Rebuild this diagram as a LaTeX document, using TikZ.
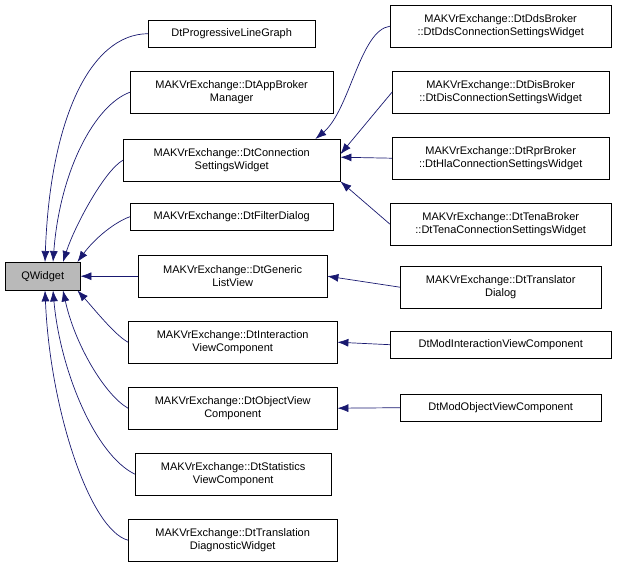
\documentclass[tikz,border=0pt]{standalone}
\usepackage{fontspec}
\setmainfont{Liberation Sans}
\usetikzlibrary{calc,arrows.meta}
\definecolor{edge}{HTML}{191970}
\begin{document}
\begin{tikzpicture}[x=1pt,y=-1pt,
  box/.style={draw=black,fill=white,minimum height=#1,inner sep=1pt,align=center,font=\fontsize{11}{13}\selectfont,anchor=north west},
  box/.default=27,
  e/.style={draw=edge,-{Latex[length=11pt,width=8pt]},line width=0.7pt}]
\useasboundingbox (0,0) rectangle (621,563);
\node[box=28,minimum width=75,fill=gray!55] (q) at (5,262) {QWidget};
\node[box,minimum width=167] (a) at (148,20) {DtProgressiveLineGraph};
\node[box=42,minimum width=203] (b) at (130,71) {MAKVrExchange::DtAppBroker\\Manager};
\node[box=42,minimum width=217] (c) at (123,139) {MAKVrExchange::DtConnection\\SettingsWidget};
\node[box,minimum width=203] (d) at (130,203) {MAKVrExchange::DtFilterDialog};
\node[box=42,minimum width=189] (g) at (138,255) {MAKVrExchange::DtGeneric\\ListView};
\node[box=42,minimum width=209] (i) at (128,321) {MAKVrExchange::DtInteraction\\ViewComponent};
\node[box=42,minimum width=209] (o) at (128,387) {MAKVrExchange::DtObjectView\\Component};
\node[box=42,minimum width=196] (s) at (135,453) {MAKVrExchange::DtStatistics\\ViewComponent};
\node[box=42,minimum width=209] (t) at (128,519) {MAKVrExchange::DtTranslation\\DiagnosticWidget};
\node[box=42,minimum width=221] (r1) at (390,5) {MAKVrExchange::DtDdsBroker\\::DtDdsConnectionSettingsWidget};
\node[box=42,minimum width=217] (r2) at (392,71) {MAKVrExchange::DtDisBroker\\::DtDisConnectionSettingsWidget};
\node[box=42,minimum width=217] (r3) at (392,137) {MAKVrExchange::DtRprBroker\\::DtHlaConnectionSettingsWidget};
\node[box=42,minimum width=221] (r4) at (390,203) {MAKVrExchange::DtTenaBroker\\::DtTenaConnectionSettingsWidget};
\node[box=42,minimum width=201] (r5) at (400,266) {MAKVrExchange::DtTranslator\\Dialog};
\node[box,minimum width=221] (r6) at (390,331) {DtModInteractionViewComponent};
\node[box,minimum width=201] (r7) at (400,394) {DtModObjectViewComponent};
% edges to QWidget
\draw[e] (a.west) .. controls (90,34) and (50,120) .. ($(q.north west)+(40,0)$);
\draw[e] (b.west) .. controls (95,105) and (60,170) .. ($(q.north west)+(48,0)$);
\draw[e] (c.west) .. controls (105,170) and (75,225) .. ($(q.north west)+(58,0)$);
\draw[e] (d.west) .. controls (115,222) and (95,238) .. ($(q.north east)+(-3,0)$);
\draw[e] (g.west) -- (q.east);
\draw[e] (i.west) .. controls (115,335) and (95,310) .. ($(q.south east)+(-3,0)$);
\draw[e] (o.west) .. controls (105,395) and (75,345) .. ($(q.south west)+(58,0)$);
\draw[e] (s.west) .. controls (95,455) and (60,370) .. ($(q.south west)+(48,0)$);
\draw[e] (t.west) .. controls (90,530) and (50,410) .. ($(q.south west)+(40,0)$);
% right column
\draw[e] (r1.west) .. controls (360,30) and (350,110) .. ($(c.north east)+(-25,0)$);
\draw[e] (r2.west) -- ($(c.east)+(0,-6)$);
\draw[e] (r3.west) -- ($(c.east)+(0,-3)$);
\draw[e] (r4.west) -- (c.south east);
\draw[e] (r5.west) -- (g.east);
\draw[e] (r6.west) -- (i.east);
\draw[e] (r7.west) -- (o.east);
\end{tikzpicture}
\end{document}
